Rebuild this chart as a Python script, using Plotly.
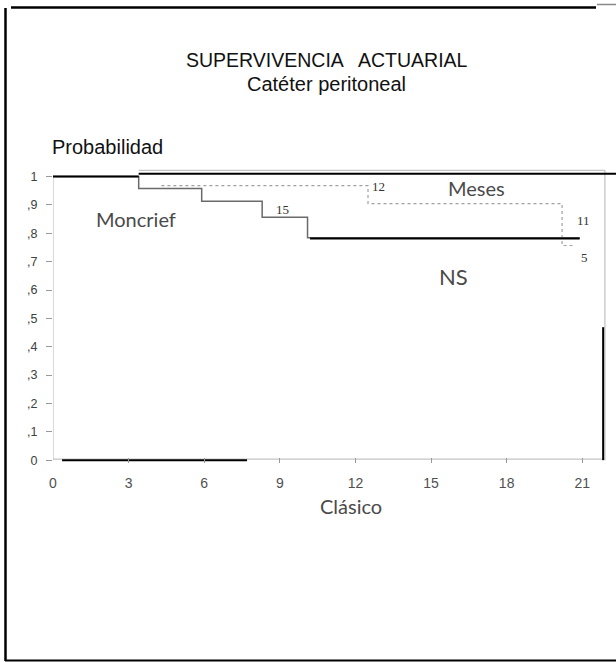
import plotly.graph_objects as go

# ---------------- data ----------------
# Clásico (solid grey step curve): months and survival probability
clasico_months = [0, 3.4, 5.9, 8.3, 10.1, 20.9]
clasico_prob = [1.0, 0.958, 0.913, 0.857, 0.784, 0.784]

# Moncrief (dotted step curve)
moncrief_months = [4.3, 12.5, 20.2, 20.7]
moncrief_prob = [0.968, 0.905, 0.757, 0.757]

# numbers at risk labels
risk_labels = ["15", "12", "11", "5"]
risk_months = [9.1, 12.9, 21.07, 21.1]
risk_prob = [0.884, 0.965, 0.845, 0.716]

# tick labels
x_ticks = [0, 3, 6, 9, 12, 15, 18, 21]
y_ticks = [0, 0.1, 0.2, 0.3, 0.4, 0.5, 0.6, 0.7, 0.8, 0.9, 1.0]
y_ticktext = ["0", ",1", ",2", ",3", ",4", ",5", ",6", ",7", ",8", ",9", "1"]

# heavy black overlay strokes seen on the scan (x list, y list)
black_strokes = [
    ([0, 3.4], [1.0, 1.0]),
    ([3.4, 22.4], [1.01, 1.01]),
    ([10.2, 20.9], [0.782, 0.782]),
    ([0.36, 7.7], [0.0, 0.0]),
    ([21.83, 21.83], [0.0, 0.469]),
]
# faint grey frame of the plot
grey_frame = [
    ([3.4, 21.9], [1.022, 1.022]),
    ([21.9, 21.9], [0.0, 1.022]),
    ([0, 21.9], [0.004, 0.004]),
    ([0, 0], [0.0, 1.0]),
]

W, H = 616, 662
L, R, T, B = 53, 0, 161, 199
XR = [0, 22.34]
YR = [-0.01, 1.055]


def px(xp):
    return (xp - L) / (W - L - R)


def py(yp):
    return (H - B - yp) / (H - T - B)


fig = go.Figure()

for xs, ys in grey_frame:
    fig.add_trace(go.Scatter(x=xs, y=ys, mode="lines",
                             line=dict(color="#c4c4c4", width=1.3),
                             hoverinfo="skip", showlegend=False))

fig.add_trace(go.Scatter(x=moncrief_months, y=moncrief_prob, mode="lines",
                         line=dict(color="#a0a0a0", width=1.2, dash="dot", shape="hv"),
                         name="Moncrief", showlegend=False))

fig.add_trace(go.Scatter(x=clasico_months, y=clasico_prob, mode="lines",
                         line=dict(color="#6a6a6a", width=1.5, shape="hv"),
                         name="Clásico", showlegend=False))

for xs, ys in black_strokes:
    fig.add_trace(go.Scatter(x=xs, y=ys, mode="lines",
                             line=dict(color="#000000", width=2),
                             hoverinfo="skip", showlegend=False))

ann = []
num_font = dict(family="Liberation Serif, serif", size=13, color="#333333")
for t, xv, yv in zip(risk_labels, risk_months, risk_prob):
    ann.append(dict(x=xv, y=yv, xref="x", yref="y", text=t, showarrow=False,
                    xanchor="center", yanchor="middle", font=num_font))

lab_font = dict(family="Lato, sans-serif", size=20, color="#4a4a4a")
ann += [
    dict(x=3.3, y=0.849, xref="x", yref="y", text="Moncrief", showarrow=False,
         xanchor="center", yanchor="middle", font=lab_font),
    dict(x=16.8, y=0.96, xref="x", yref="y", text="Meses", showarrow=False,
         xanchor="center", yanchor="middle", font=lab_font),
    dict(x=15.9, y=0.647, xref="x", yref="y", text="NS", showarrow=False,
         xanchor="center", yanchor="middle",
         font=dict(family="Lato, sans-serif", size=22, color="#4a4a4a")),
    dict(x=px(351), y=py(506), xref="paper", yref="paper", text="Clásico",
         showarrow=False, xanchor="center", yanchor="middle", font=lab_font),
    dict(x=px(326.5), y=py(60.5), xref="paper", yref="paper",
         text="SUPERVIVENCIA   ACTUARIAL", showarrow=False,
         xanchor="center", yanchor="middle",
         font=dict(family="Liberation Sans, Arial, sans-serif", size=19.5, color="#111111")),
    dict(x=px(326.5), y=py(84), xref="paper", yref="paper",
         text="Catéter peritoneal", showarrow=False,
         xanchor="center", yanchor="middle",
         font=dict(family="Liberation Sans, Arial, sans-serif", size=20, color="#111111")),
    dict(x=px(50), y=py(147), xref="paper", yref="paper", xanchor="left", yanchor="middle",
         text="Probabilidad", showarrow=False,
         font=dict(family="Liberation Sans, Arial, sans-serif", size=20, color="#111111")),
]

shapes = [
    # outer frame of the page
    dict(type="line", xref="paper", yref="paper", x0=px(5.5), x1=px(5.5), y0=py(8), y1=py(661),
         line=dict(color="black", width=2.5)),
    dict(type="line", xref="paper", yref="paper", x0=px(11), x1=px(596), y0=py(7.5), y1=py(7.5),
         line=dict(color="black", width=2.5)),
    dict(type="line", xref="paper", yref="paper", x0=px(5), x1=px(616), y0=py(660.5), y1=py(660.5),
         line=dict(color="black", width=2)),
    dict(type="line", xref="paper", yref="paper", x0=px(597), x1=px(616), y0=py(4.5), y1=py(4.5),
         line=dict(color="#888888", width=1.5)),
]

fig.update_layout(
    template="none",
    width=W, height=H,
    margin=dict(l=L, r=R, t=T, b=B, pad=0),
    paper_bgcolor="white", plot_bgcolor="white",
    annotations=ann, shapes=shapes,
    xaxis=dict(range=XR, tickvals=x_ticks, ticktext=[str(v) for v in x_ticks],
               ticks="inside", ticklen=5, tickcolor="#999999", tickwidth=1,
               showline=False, showgrid=False, zeroline=False,
               tickfont=dict(family="Liberation Sans, Arial, sans-serif", size=14, color="#505050"),
               ticklabelstandoff=10),
    yaxis=dict(range=YR, tickvals=y_ticks, ticktext=y_ticktext,
               ticks="outside", ticklen=6, tickcolor="#999999", tickwidth=1,
               showline=False, showgrid=False, zeroline=False,
               tickfont=dict(family="Liberation Sans, Arial, sans-serif", size=12.5, color="#404040"),
               ticklabelstandoff=6),
)

fig.write_html("out.html", config={"displayModeBar": False},
               post_script="document.body.style.margin='0';document.body.style.overflow='hidden';")
